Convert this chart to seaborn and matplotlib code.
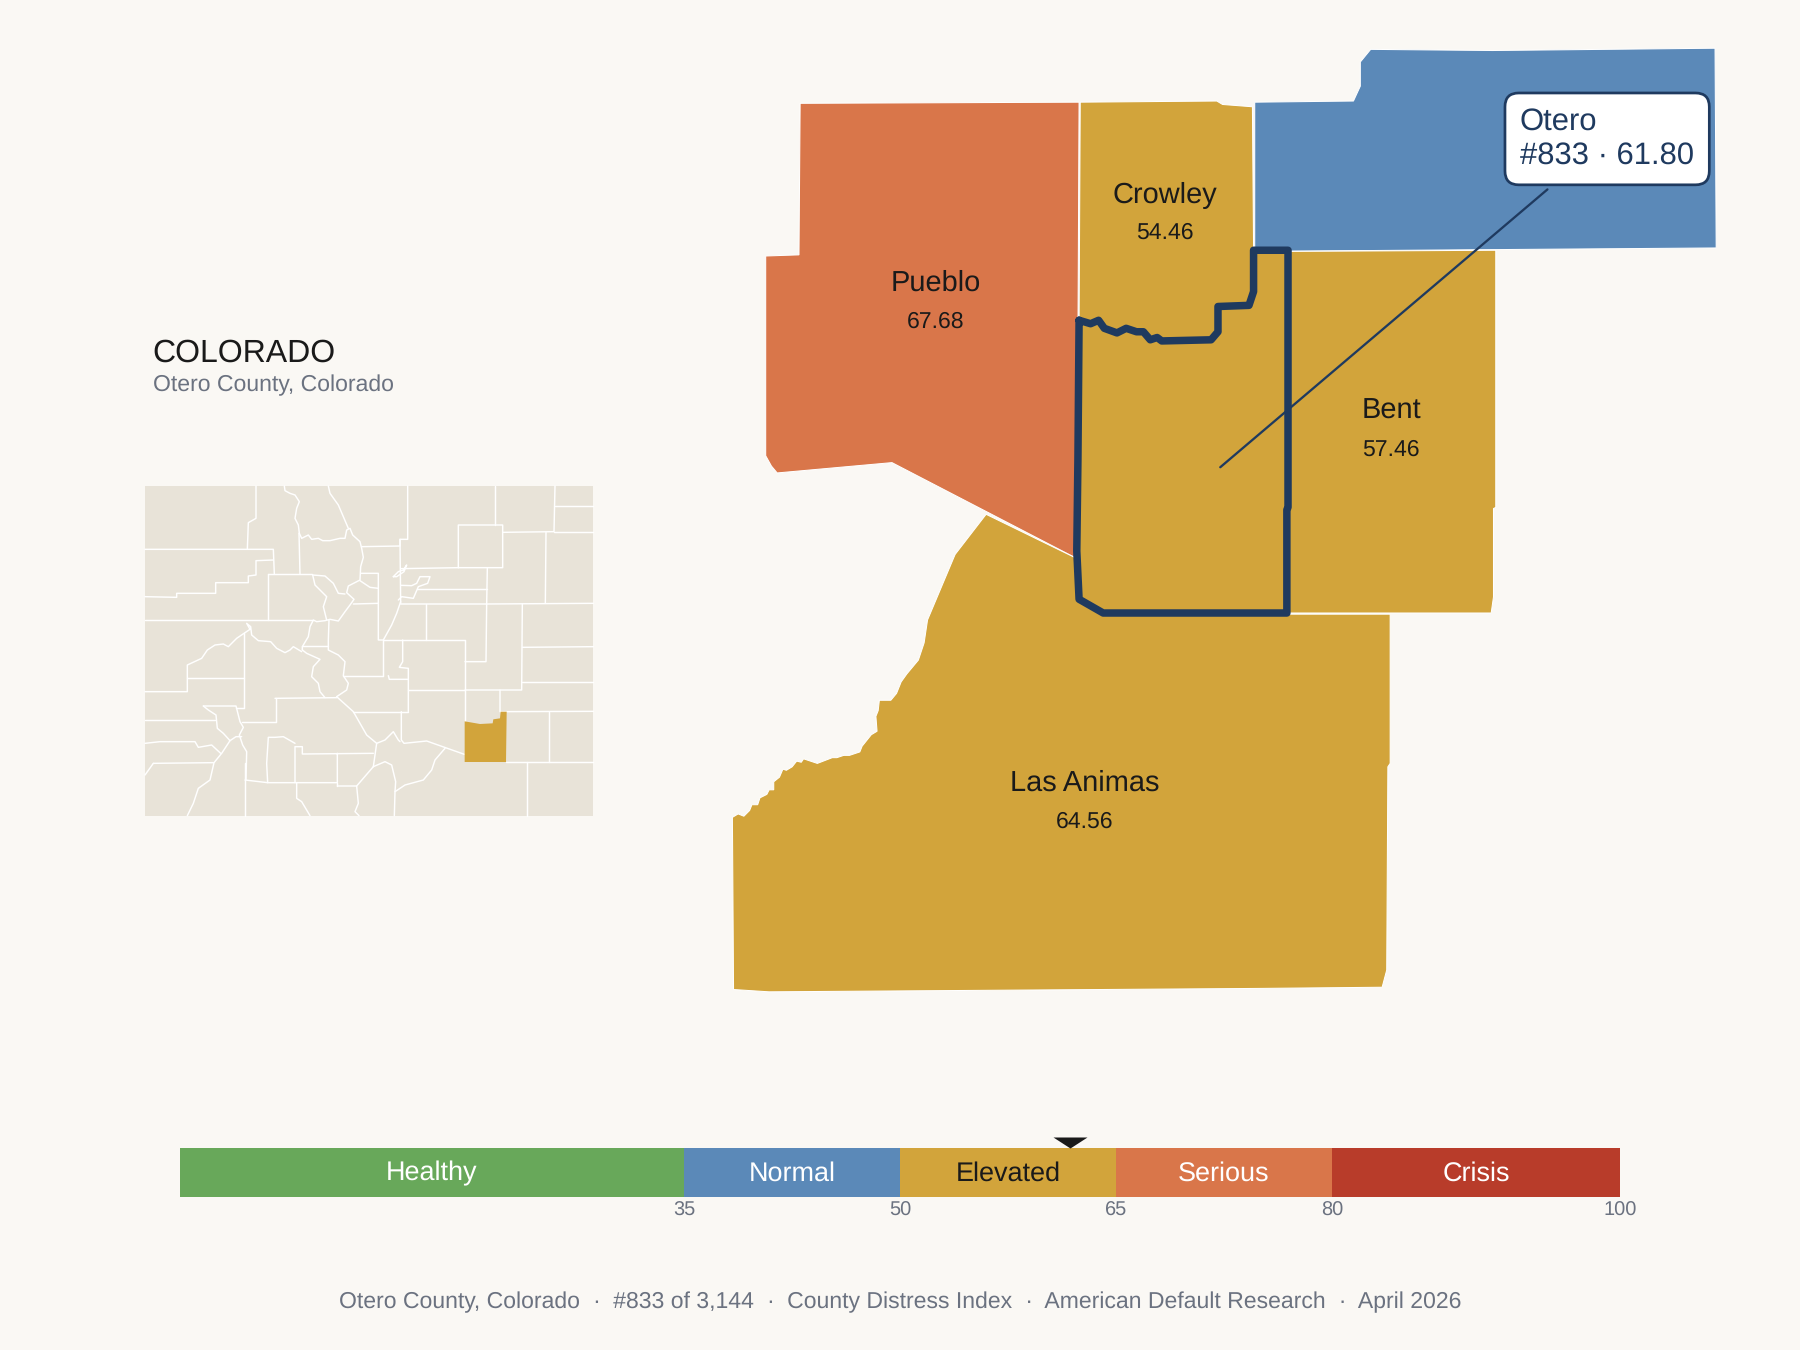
import matplotlib
matplotlib.use("Agg")
import matplotlib.pyplot as plt
from matplotlib.patches import FancyBboxPatch
from matplotlib.path import Path
from matplotlib.transforms import blended_transform_factory
import pandas as pd
import seaborn as sns

# ---------- data ----------
band_names = ["Healthy", "Normal", "Elevated", "Serious", "Crisis"]
band_upper = [35, 50, 65, 80, 100]
band_colors = ["#68a85a", "#5b89b8", "#d2a43b", "#d9764a", "#b83c2a"]
band_text = ["white", "white", "#1a1a1a", "white", "white"]
score = 61.80

title = "COLORADO"
subtitle = "Otero County, Colorado"
callout = "Otero\n#833 · 61.80"
footer = ("Otero County, Colorado  ·  #833 of 3,144  ·  County Distress Index  ·  "
          "American Default Research  ·  April 2026")

pueblo = [(697,90),(940,89),(939,300),(937,486),(777,403),(677,412),(672,406),(667,397),(667,223),(696,222)]
crowley = [(941,89),(1060,88),(1065,91),(1091,93),(1092,216),(1092,254),(1088,266),(1061,267),(1060,289),
           (1055,296),(1012,297),(1002,296),(996,289),(981,286),(973,290),(962,286),(957,279),(950,282),(940,279)]
kiowa = [(1093,89),(1179,88),(1185,75),(1185,54),(1194,43),(1300,44),(1494,42),(1495,216),(1093,219)]
bent = [(1122,219),(1303,218),(1303,442),(1301,443),(1301,520),(1299,534),(1122,534)]
las_animas = [(859,448),(937,486),(939,522),(961,535),(1211,535),(1211,665),(1209,668),(1208,845),(1204,860),
              (1100,861),(670,864),(639,862),(638,712),(643,709),(648,711),(653,706),(655,701),(660,701),(662,695),
              (668,692),(670,688),(674,688),(674,681),(679,677),(682,670),(685,671),(690,668),(694,663),(698,664),
              (700,661),(712,665),(725,660),(729,660),(735,658),(740,658),(749,655),(751,650),(755,645),(759,640),
              (764,637),(763,624),(765,619),(766,610),(776,610),(781,604),(785,594),(790,587),(800,575),(805,560),
              (808,540),(832,483)]
otero = [(940,279),(950,282),(957,279),(962,286),(973,290),(981,286),(990,289),(996,289),(1002,296),(1008,294),
         (1012,297),(1055,296),(1061,289),(1061,267),(1088,266),(1092,254),(1092,218),(1122,218),(1122,442),
         (1121,444),(1121,534),(961,534),(940,522),(938,480),(939,400)]

county_names = ["Pueblo", "Crowley", "Bent", "Las Animas"]
county_scores = [67.68, 54.46, 57.46, 64.56]
county_label_x = [815, 1015, 1212, 945]
county_label_y = [246.5, 170.5, 358, 682.5]
county_value_y = [280.5, 203, 391.5, 716]

inset_outline = [(45,48),(1390,48),(1390,1037),(45,1037)]
inset_otero = [(1004,754),(1050,762),(1088,760),(1090,748),(1110,745),(1112,725),(1130,725),(1128,876),(1004,876)]
inset_lines = [
    [(378,48),(378,145),(355,158),(352,238)],
    [(45,238),(430,238),(433,313)],
    [(430,270),(378,272),(378,315),(355,318),(355,338),(257,338),(257,370),(140,370),(140,382),(45,380)],
    [(45,451),(550,451)],
    [(415,313),(415,451)],
    [(415,313),(545,313)],
    [(507,190),(510,313)],
    [(463,48),(465,62),(480,70),(495,75),(508,95),(500,115),(495,145),(505,165),(508,190),(515,205),(535,195),
     (545,208),(565,205),(578,212),(600,212),(630,205),(645,205),(650,180),(660,175),(668,195),(690,215),(695,235),
     (700,262),(692,290),(690,330),(655,348),(650,368),(672,388),(660,405),(645,425),(625,453),(600,448),(585,452),
     (560,455),(550,450),(540,470),(535,500),(517,530),(517,540)],
    [(595,48),(600,70),(625,105),(655,175)],
    [(695,230),(810,228),(810,208),(833,208),(833,48)],
    [(810,208),(812,400)],
    [(693,310),(745,310),(745,510),(760,510),(785,465),(800,430),(812,395)],
    [(690,332),(720,352),(745,355)],
    [(670,402),(745,400)],
    [(548,315),(555,345),(590,380),(580,410),(590,450)],
    [(548,315),(585,318),(610,340),(625,370),(645,372)],
    [(812,296),(985,293),(1118,293),(1118,165),(985,165),(985,293)],
    [(790,320),(805,305),(820,300),(830,285),(822,305),(800,320),(790,320)],
    [(812,346),(845,347),(860,340),(870,320),(900,320),(893,340),(865,350),(850,385),(815,380),(805,390)],
    [(860,358),(1072,358)],
    [(1096,48),(1096,165)],
    [(1275,48),(1272,185),(1118,187)],
    [(1275,108),(1390,108)],
    [(1272,186),(1390,186)],
    [(1248,187),(1246,400)],
    [(1072,295),(1070,402),(1068,575),(1005,575)],
    [(812,402),(1070,402),(1390,400)],
    [(887,402),(887,510)],
    [(760,510),(1005,510),(1005,754)],
    [(1177,402),(1175,660),(1005,660)],
    [(1177,532),(1390,530)],
    [(1175,637),(1390,637)],
    [(1110,660),(1110,725),(1390,724)],
    [(1256,725),(1256,876)],
    [(1128,876),(1390,876)],
    [(1192,876),(1192,1037)],
    [(818,510),(818,575),(808,592),(835,595),(835,725)],
    [(760,510),(760,617),(640,617)],
    [(775,617),(778,628),(835,628)],
    [(835,660),(1005,660)],
    [(670,725),(835,725)],
    [(814,725),(814,810),(822,820),(890,813),(1003,853)],
    [(945,835),(915,870),(905,900),(880,930),(825,945),(795,965),(793,1037)],
    [(435,685),(620,683)],
    [(597,450),(595,510),(595,540),(625,555),(645,575),(640,617),(655,640),(650,660),(620,680)],
    [(517,527),(595,527)],
    [(517,540),(530,550),(570,568),(550,590),(545,620),(565,640),(570,665),(585,683)],
    [(620,680),(670,725),(710,795),(740,820),(730,890)],
    [(740,820),(765,810),(775,800),(790,785),(805,810),(810,815)],
    [(730,850),(517,852),(517,830),(495,830),(495,938),(622,938),(622,850)],
    [(622,948),(680,948),(730,890)],
    [(622,938),(622,948)],
    [(680,948),(685,1000),(675,1025),(687,1037)],
    [(730,890),(765,875),(785,885),(797,935),(795,965)],
    [(500,938),(500,985),(515,995),(540,1037)],
    [(495,820),(460,800),(435,802),(415,802),(410,880),(413,938)],
    [(345,930),(413,938),(495,938)],
    [(345,880),(345,1037)],
    [(437,685),(437,755),(335,755)],
    [(342,490),(342,715),(318,715)],
    [(220,708),(318,708),(330,755),(340,772),(328,795),(338,825),(350,845),(348,930)],
    [(220,708),(235,720),(258,735),(262,775),(280,790),(300,812),(275,850),(252,878),(240,930),(205,955),(190,1000),(172,1037)],
    [(300,812),(318,800),(335,800)],
    [(45,665),(172,665),(172,585),(215,565),(232,540),(255,525),(280,522),(295,530),(320,505),(345,488),(360,478),
     (350,460),(362,470),(365,495),(385,512),(422,515),(440,535),(465,548),(480,540),(490,530),(515,545)],
    [(172,623),(342,623)],
    [(45,750),(255,750)],
    [(45,820),(90,815),(195,815),(205,832),(245,825),(272,850)],
    [(70,880),(250,878)],
    [(45,915),(70,880)],
]

# ---------- style ----------
BG = "#faf8f4"
NAVY = "#1f3a5f"
GREY = "#6b7280"
INK = "#1a1a1a"
INSET = "#e8e3d8"
sns.set_theme(style="white")
plt.rcParams["font.family"] = ["Liberation Sans", "DejaVu Sans"]
plt.rcParams["text.hinting"] = "no_hinting"
plt.rcParams["text.hinting_factor"] = 1

fig = plt.figure(figsize=(12, 9), dpi=150, facecolor=BG)

# ---------- main map ----------
ax = fig.add_axes([0, 0, 1, 1])
ax.set_xlim(0, 1568)
ax.set_ylim(1176, 0)
ax.axis("off")


def county(vertices, color):
    xs, ys = zip(*vertices)
    ax.fill(xs, ys, facecolor=color, edgecolor="white", linewidth=0.5, zorder=2)


gold = band_colors[2]
county(kiowa, band_colors[1])
county(crowley, gold)
county(bent, gold)
county(pueblo, band_colors[3])
county(las_animas, gold)
county(otero, gold)
ox, oy = zip(*(otero + otero[:1]))
ax.plot(ox, oy, color=NAVY, lw=3.6, solid_joinstyle="round", zorder=4)

for name, val, lx, ly, vy in zip(county_names, county_scores, county_label_x, county_label_y, county_value_y):
    ax.text(lx, ly, name, fontsize=14, color=INK, ha="center", va="center", zorder=5)
    ax.text(lx, vy, f"{val:.2f}", fontsize=11, color=INK, ha="center", va="center", zorder=5)

ax.plot([1063, 1348], [407, 165], color=NAVY, lw=1.1, zorder=5)
ax.add_patch(FancyBboxPatch((1319, 89), 162, 64, boxstyle="round,pad=8,rounding_size=12",
                            facecolor="white", edgecolor=NAVY, linewidth=1.3, zorder=6))
ax.text(1324, 120.5, callout, fontsize=15, color=NAVY, ha="left", va="center",
        linespacing=1.22, zorder=7)

ax.text(133, 307.5, title, fontsize=15.6, color=INK, ha="left", va="center")
ax.text(133, 336, subtitle, fontsize=11.25, color=GREY, ha="left", va="center")
ax.text(784, 1134, footer, fontsize=10.97, color=GREY, ha="center", va="center")

# ---------- state inset ----------
ins = fig.add_axes([130 / 1800, 1 - 830 / 1350, 480 / 1800, 360 / 1350])
ins.set_xlim(0, 1440)
ins.set_ylim(1080, 0)
ins.axis("off")
ins.patch.set_alpha(0)
ix, iy = zip(*inset_outline)
ins.fill(ix, iy, facecolor=INSET, edgecolor="none", zorder=1)
for seg in inset_lines:
    sx, sy = zip(*seg)
    ins.plot(sx, sy, color="white", lw=0.7, zorder=2)
hx, hy = zip(*inset_otero)
ins.fill(hx, hy, facecolor=gold, edgecolor="none", zorder=3)

# ---------- severity scale ----------
bar_ax = fig.add_axes([180 / 1800, 1 - 1197 / 1350, 1440 / 1800, 49 / 1350])
bar_ax.patch.set_alpha(0)
scale = pd.DataFrame({"band": band_names, "upper": band_upper, "row": ["scale"] * len(band_names)})
sns.barplot(data=scale.iloc[::-1], x="upper", y="row", hue="band", hue_order=band_names[::-1],
            palette=dict(zip(band_names, band_colors)), dodge=False, width=1, saturation=1,
            errorbar=None, legend=False, linewidth=0, orient="h", ax=bar_ax)
bar_ax.set_xlim(0, 100)
bar_ax.set_ylim(0.5, -0.5)
bar_ax.set_xlabel("")
bar_ax.set_ylabel("")
bar_ax.set_yticks([])
bar_ax.set_xticks(band_upper[:])
bar_ax.set_xticklabels([str(v) for v in band_upper], fontsize=9.5, color=GREY)
bar_ax.tick_params(axis="x", length=0, pad=2.3)
for s in bar_ax.spines.values():
    s.set_visible(False)

lower = 0
for name, up, tc in zip(band_names, band_upper, band_text):
    bar_ax.text((lower + up) / 2, 0.16, name, color=tc, fontsize=13, ha="center", va="baseline")
    lower = up

tip = Path([(-17, 11), (17, 11), (0, 0), (-17, 11)], closed=True)
bar_ax.plot([score], [1.0], transform=blended_transform_factory(bar_ax.transData, bar_ax.transAxes),
            marker=tip, markersize=34 * 72 / 150, color=INK, markeredgewidth=0, clip_on=False, linestyle="none")

fig.savefig("out.png", dpi=150, facecolor=BG)
